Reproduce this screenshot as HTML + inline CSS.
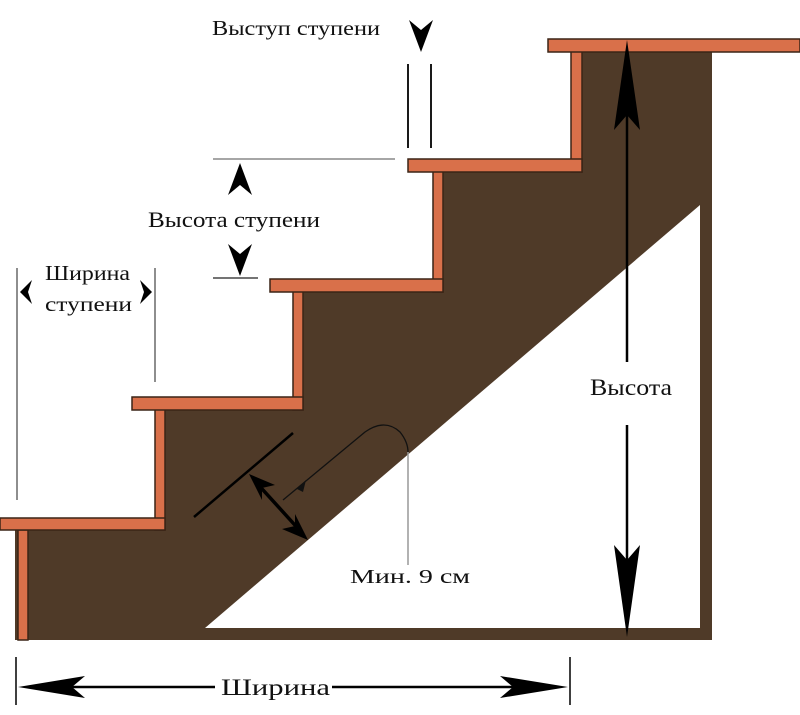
<!DOCTYPE html>
<html><head><meta charset="utf-8"><style>
html,body{margin:0;padding:0;background:#fff;}
svg{display:block;}
text{font-family:"Liberation Serif",serif;fill:#111;}
</style></head><body>
<svg width="800" height="715" viewBox="0 0 800 715" xmlns="http://www.w3.org/2000/svg">
<polygon points="28,530 165,530 165,410 303,410 303,292 443,292 443,172 582,172 582,52 712,52 712,640 15,640 15,530" fill="#4f3a28"/>
<polygon points="205,628 700,205 700,628" fill="#fff"/>
<g fill="#d9704a" stroke="#3a2416" stroke-width="1.5">
<rect x="18" y="530" width="10" height="110"/>
<rect x="155" y="408" width="10" height="122"/>
<rect x="293" y="290" width="10" height="120"/>
<rect x="433" y="170" width="10" height="122"/>
<rect x="571" y="50" width="11" height="122"/>
<rect x="0" y="518" width="165" height="12"/>
<rect x="132" y="397" width="171" height="13"/>
<rect x="270" y="279" width="173" height="13"/>
<rect x="408" y="159" width="174" height="13"/>
<rect x="548" y="39" width="252" height="13"/>
</g>
<g stroke="#000" stroke-width="2.5">
<line x1="627" y1="60" x2="627" y2="362"/>
<line x1="627" y1="425" x2="627" y2="620"/>
</g>
<polygon points="627,40 640,130 627,115 614,130" fill="#000"/>
<polygon points="627,637 640,545 627,560 614,545" fill="#000"/>
<text x="590" y="395" font-size="23" textLength="82" lengthAdjust="spacingAndGlyphs">Высота</text>
<g stroke="#000">
<line x1="16" y1="657" x2="16" y2="705" stroke-width="1.5"/>
<line x1="570" y1="657" x2="570" y2="705" stroke-width="1.5"/>
<line x1="30" y1="687" x2="215" y2="687" stroke-width="2.5"/>
<line x1="332" y1="687" x2="555" y2="687" stroke-width="2.5"/>
</g>
<polygon points="18,687 85,676 72,687 85,698" fill="#000"/>
<polygon points="568,687 500,676 513,687 500,698" fill="#000"/>
<text x="221" y="695" font-size="23" textLength="109" lengthAdjust="spacingAndGlyphs">Ширина</text>
<g stroke="#444" stroke-width="1.2">
<line x1="17" y1="268" x2="17" y2="500"/>
<line x1="155" y1="268" x2="155" y2="382"/>
</g>
<polygon points="20,292 32,280 28,292 32,304" fill="#000"/>
<polygon points="152,292 140,280 144,292 140,304" fill="#000"/>
<text x="45" y="280" font-size="21" textLength="85" lengthAdjust="spacingAndGlyphs">Ширина</text>
<text x="45" y="311" font-size="21" textLength="87" lengthAdjust="spacingAndGlyphs">ступени</text>
<line x1="213" y1="159" x2="395" y2="159" stroke="#888" stroke-width="1.5"/>
<line x1="213" y1="278" x2="258" y2="278" stroke="#222" stroke-width="1.2"/>
<polygon points="240,163 252,195 240,185 228,195" fill="#000"/>
<polygon points="240,276 252,244 240,254 228,244" fill="#000"/>
<text x="148" y="227" font-size="22" textLength="172" lengthAdjust="spacingAndGlyphs">Высота  ступени</text>
<text x="212" y="35" font-size="21" textLength="168" lengthAdjust="spacingAndGlyphs">Выступ ступени</text>
<polygon points="421,52 409,20 421,30 433,20" fill="#000"/>
<g stroke="#000" stroke-width="1.8">
<line x1="408" y1="64" x2="408" y2="148"/>
<line x1="431" y1="64" x2="431" y2="148"/>
</g>
<line x1="194" y1="517" x2="293" y2="433" stroke="#000" stroke-width="2.5"/>
<line x1="254" y1="480" x2="303" y2="534" stroke="#000" stroke-width="3.5"/>
<polygon points="249,474 275,485 262,488 262,500" fill="#000"/>
<polygon points="308,540 282,529 295,526 295,514" fill="#000"/>
<path d="M283,500 L365,432 Q385,418 400,432 Q408,442 408,452" fill="none" stroke="#111" stroke-width="1.3"/>
<polygon points="297,489 306,480 303,492" fill="#111"/>
<line x1="408" y1="452" x2="408" y2="565" stroke="#999" stroke-width="1.5"/>
<text x="350" y="583" font-size="20" textLength="120" lengthAdjust="spacingAndGlyphs">Мин. 9 см</text>
</svg>
</body></html>
